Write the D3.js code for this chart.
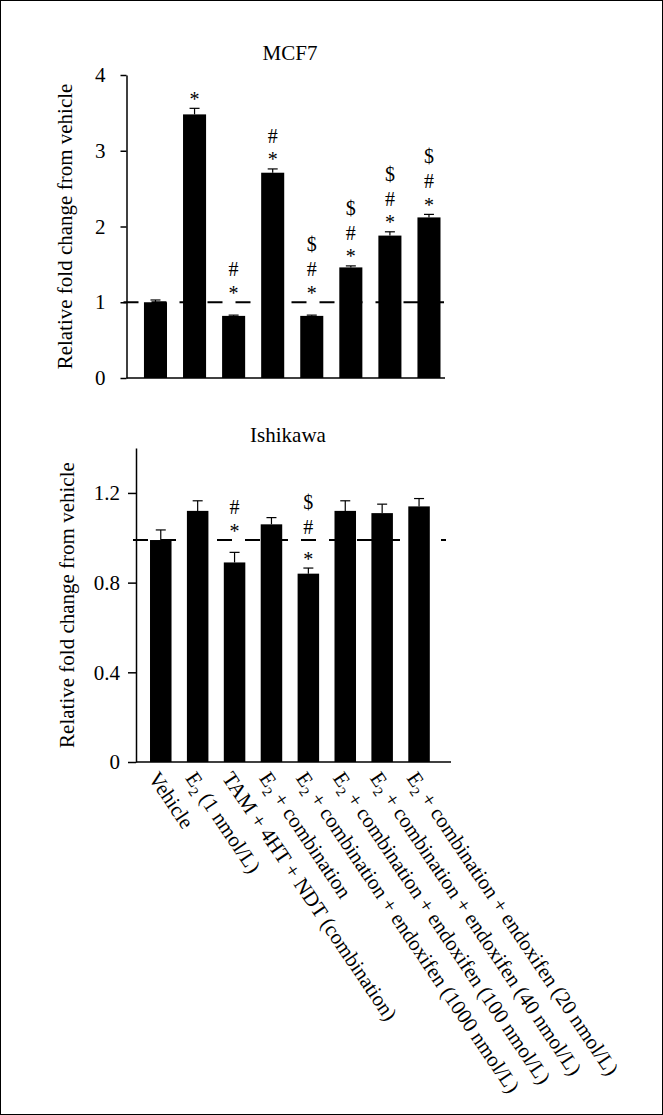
<!DOCTYPE html>
<html>
<head>
<meta charset="utf-8">
<script src="https://cdnjs.cloudflare.com/ajax/libs/d3/7.8.5/d3.min.js"></script>
<style>
    body { margin: 0; background: #fff; }
    text { font-family: "Liberation Serif", "Times New Roman", serif; fill: #000; }
</style>
</head>
<body>
<svg id="svg" width="663" height="1115"></svg>
<script>
var groups = ["Vehicle", "E2 (1 nmol/L)", "TAM + 4HT + NDT (combination)", "E2 + combination",
    "E2 + combination + endoxifen (1000 nmol/L)", "E2 + combination + endoxifen (100 nmol/L)",
    "E2 + combination + endoxifen (40 nmol/L)", "E2 + combination + endoxifen (20 nmol/L)"];

var mcf7Values = [1.00, 3.48, 0.82, 2.71, 0.82, 1.46, 1.88, 2.12];
var mcf7Errors = [0.03, 0.08, 0.01, 0.05, 0.01, 0.02, 0.05, 0.04];
var mcf7Marks = [[], ["*"], ["*", "#"], ["*", "#"], ["*", "#", "$"], ["*", "#", "$"], ["*", "#", "$"], ["*", "#", "$"]];
var mcf7Ticks = [0, 1, 2, 3, 4];
var mcf7TickLabels = ["0", "1", "2", "3", "4"];
var mcf7Ref = 1.0;

var ishikawaValues = [0.99, 1.12, 0.89, 1.06, 0.84, 1.12, 1.11, 1.14];
var ishikawaErrors = [0.045, 0.045, 0.045, 0.03, 0.025, 0.045, 0.04, 0.035];
var ishikawaMarks = [[], [], ["*", "#"], [], ["*", "#", "$"], [], [], []];
var ishikawaTicks = [0, 0.4, 0.8, 1.2];
var ishikawaTickLabels = ["0", "0.4", "0.8", "1.2"];
var ishikawaRef = 0.99;

var svg = d3.select("svg");

// frame round the figure
svg.append("rect")
    .attr("x", 0.5).attr("y", 0.5)
    .attr("width", 662).attr("height", 1114)
    .attr("fill", "none").attr("stroke", "#000").attr("stroke-width", 1);

function drawPanel(o) {
    var x = d3.scaleBand()
        .domain(groups)
        .range([o.left, o.right])
        .paddingInner(o.padIn)
        .paddingOuter(o.padOut)
        .align(o.align);

    var y = d3.scaleLinear()
        .domain(o.domain)
        .range([o.bottom, o.top]);

    var g = svg.append("g");

    // title
    g.append("text")
        .attr("x", o.titleX)
        .attr("y", o.titleY)
        .attr("text-anchor", "middle")
        .style("font-size", "21px")
        .text(o.title);

    // y axis label
    g.append("text")
        .attr("transform", "translate(" + o.labelX + "," + ((o.top + o.bottom) / 2) + ") rotate(-90)")
        .attr("text-anchor", "middle")
        .style("font-size", "21px")
        .text("Relative fold change from vehicle");

    // bars
    g.selectAll("rect.bar")
        .data(o.values)
        .enter()
        .append("rect")
        .attr("class", "bar")
        .attr("x", function (d, i) { return x(groups[i]); })
        .attr("y", function (d) { return y(d); })
        .attr("width", x.bandwidth())
        .attr("height", function (d) { return y(0) - y(d); })
        .attr("fill", "#000");

    // error bars (upper only)
    var err = g.selectAll("g.err")
        .data(o.values)
        .enter()
        .append("g")
        .attr("class", "err");
    err.append("line")
        .attr("x1", function (d, i) { return x(groups[i]) + x.bandwidth() / 2; })
        .attr("x2", function (d, i) { return x(groups[i]) + x.bandwidth() / 2; })
        .attr("y1", function (d) { return y(d); })
        .attr("y2", function (d, i) { return y(d + o.errors[i]); })
        .attr("stroke", "#000").attr("stroke-width", 1.2);
    err.append("line")
        .attr("x1", function (d, i) { return x(groups[i]) + x.bandwidth() / 2 - 5; })
        .attr("x2", function (d, i) { return x(groups[i]) + x.bandwidth() / 2 + 5; })
        .attr("y1", function (d, i) { return y(d + o.errors[i]); })
        .attr("y2", function (d, i) { return y(d + o.errors[i]); })
        .attr("stroke", "#000").attr("stroke-width", 1.2);

    // dashed reference line
    g.append("line")
        .attr("x1", o.left - 3)
        .attr("x2", o.dashEnd)
        .attr("y1", y(o.ref))
        .attr("y2", y(o.ref))
        .attr("stroke", "#000")
        .attr("stroke-width", 2)
        .attr("stroke-dasharray", "15,13");

    // axes
    var yAxis = d3.axisLeft(y)
        .tickValues(o.ticks)
        .tickFormat(function (d, i) { return o.tickLabels[i]; })
        .tickSizeInner(o.tickSize)
        .tickSizeOuter(0)
        .tickPadding(o.tickPad);
    var ax = g.append("g")
        .attr("transform", "translate(" + o.left + ",0)")
        .call(yAxis);
    ax.select(".domain").attr("stroke", "#000").attr("stroke-width", 1.5);
    ax.selectAll(".tick line").attr("stroke", "#000").attr("stroke-width", 1.5);
    ax.selectAll(".tick text")
        .style("font-family", "'Liberation Serif', 'Times New Roman', serif")
        .style("font-size", "21px")
        .attr("fill", "#000");

    g.append("line")
        .attr("x1", o.left)
        .attr("x2", o.right)
        .attr("y1", y(0))
        .attr("y2", y(0))
        .attr("stroke", "#000")
        .attr("stroke-width", 1.5);

    // significance symbols
    var lineY = y(o.ref);
    o.marks.forEach(function (list, i) {
        var cx = x(groups[i]) + x.bandwidth() / 2;
        var c = y(o.values[i] + o.errors[i]) - 13;
        list.forEach(function (s, k) {
            if (k > 0) c -= (s === "$" ? 25 : 20);
            if (Math.abs(c - lineY) < 10) c = lineY - 13;
            g.append("text")
                .attr("x", cx)
                .attr("y", c + (s === "*" ? 10.5 : 7))
                .attr("text-anchor", "middle")
                .style("font-size", "20px")
                .text(s);
        });
    });

    return x;
}

var xTop = drawPanel({
    title: "MCF7", titleX: 290, titleY: 60, labelX: 72,
    left: 126.5, right: 445, top: 75, bottom: 378,
    padIn: 0.41, padOut: 0.281, align: 0.795,
    domain: [0, 4], ticks: mcf7Ticks, tickLabels: mcf7TickLabels,
    tickSize: 6, tickPad: 15,
    values: mcf7Values, errors: mcf7Errors, marks: mcf7Marks,
    ref: mcf7Ref, dashEnd: 444
});

var xBottom = drawPanel({
    title: "Ishikawa", titleX: 288, titleY: 442, labelX: 74,
    left: 136, right: 451, top: 448.1, bottom: 762,
    padIn: 0.417, padOut: 0.477, align: 0.398,
    domain: [0, 1.4], ticks: ishikawaTicks, tickLabels: ishikawaTickLabels,
    tickSize: 8, tickPad: 8,
    values: ishikawaValues, errors: ishikawaErrors, marks: ishikawaMarks,
    ref: ishikawaRef, dashEnd: 446
});

// rotated category labels under the lower panel
var labels = svg.append("g");
groups.forEach(function (name, i) {
    var cx = xBottom(name) + xBottom.bandwidth() / 2;
    var t = labels.append("text")
        .attr("transform", "translate(" + (cx - 13) + "," + (762 + 16) + ") rotate(56)")
        .style("font-size", "21px");
    if (name.indexOf("E2") === 0) {
        t.append("tspan").text("E");
        t.append("tspan").attr("dy", 5).style("font-size", "14px").text("2");
        t.append("tspan").attr("dy", -5).text(name.slice(2));
    } else {
        t.text(name);
    }
});
</script>
</body>
</html>
